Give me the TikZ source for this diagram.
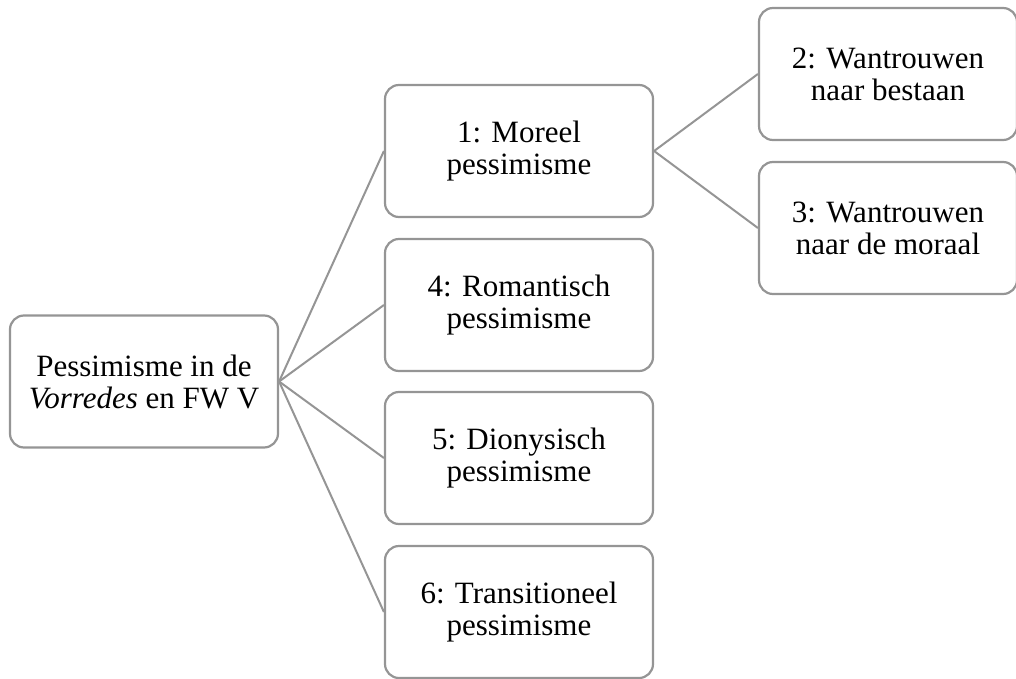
\documentclass[tikz,border=0pt]{standalone}
\usepackage{fontspec}
\setmainfont{Liberation Serif}
\definecolor{boxgray}{HTML}{959595}
\begin{document}
\begin{tikzpicture}[x=1pt,y=1pt,
  box/.style={draw=boxgray, line width=2.2pt, rounded corners=14pt, fill=white,
    minimum width=#1, minimum height=132pt, inner sep=0pt, align=center,
    font=\fontsize{31}{32}\selectfont},
  box/.default=268pt,
  link/.style={draw=boxgray, line width=2pt}]
\useasboundingbox (0,0) rectangle (1016,-679);
\node[box] (root) at (144,-381.5) {Pessimisme in de\\\textit{Vorredes} en FW V};
\node[box] (b1) at (519,-151) {1: Moreel\\pessimisme};
\node[box] (b4) at (519,-305) {4: Romantisch\\pessimisme};
\node[box] (b5) at (519,-458) {5: Dionysisch\\pessimisme};
\node[box] (b6) at (519,-612) {6: Transitioneel\\pessimisme};
\node[box=258pt] (b2) at (888,-74) {2: Wantrouwen\\naar bestaan};
\node[box=258pt] (b3) at (888,-228) {3: Wantrouwen\\naar de moraal};
\draw[link] (root.east) -- (b1.west);
\draw[link] (root.east) -- (b4.west);
\draw[link] (root.east) -- (b5.west);
\draw[link] (root.east) -- (b6.west);
\draw[link] (b1.east) -- (b2.west);
\draw[link] (b1.east) -- (b3.west);
\end{tikzpicture}
\end{document}
